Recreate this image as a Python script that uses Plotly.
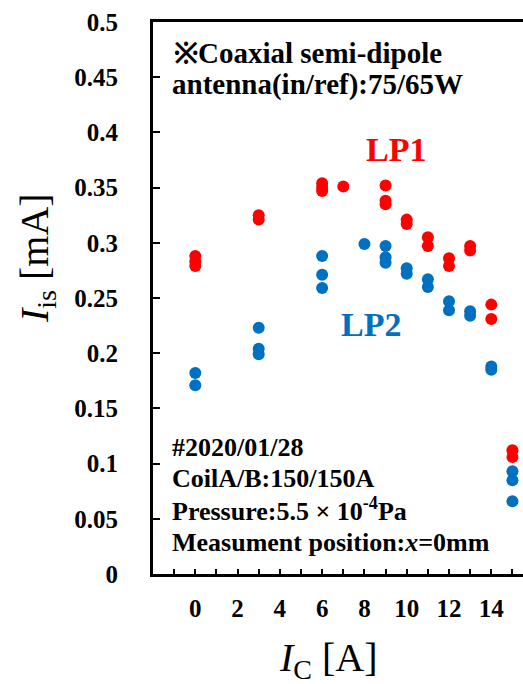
import plotly.graph_objects as go

# Ion saturation current of the two Langmuir probes vs. coil current
lp1_ic = [0, 0, 0, 3, 3, 6, 6, 6, 7, 9, 9, 9, 10, 10, 11, 11, 12, 12, 13, 13, 14, 14, 15, 15]
lp1_iis = [0.288, 0.283, 0.279, 0.325, 0.321, 0.354, 0.350, 0.347, 0.351,
           0.352, 0.338, 0.335, 0.321, 0.317, 0.305, 0.297, 0.286, 0.279,
           0.297, 0.293, 0.244, 0.231, 0.112, 0.106]

lp2_ic = [0, 0, 3, 3, 3, 6, 6, 6, 8, 9, 9, 9, 10, 10, 11, 11, 12, 12, 13, 13, 14, 14, 15, 15, 15]
lp2_iis = [0.182, 0.171, 0.223, 0.204, 0.199, 0.288, 0.271, 0.259, 0.299,
           0.297, 0.287, 0.282, 0.277, 0.272, 0.267, 0.260, 0.247, 0.239,
           0.238, 0.234, 0.188, 0.185, 0.093, 0.085, 0.066]

x_ticks = [0, 2, 4, 6, 8, 10, 12, 14]
x_ticktext = ["0", "2", "4", "6", "8", "10", "12", "14"]
y_ticks = [round(0.05 * i, 2) for i in range(11)]
y_ticktext = ["0", "0.05", "0.1", "0.15", "0.2", "0.25", "0.3", "0.35", "0.4", "0.45", "0.5"]

RED = "#FF0000"
BLUE = "#0070C0"
SERIF = "Liberation Serif, Times New Roman, serif"

fig = go.Figure()
fig.add_trace(go.Scatter(x=lp1_ic, y=lp1_iis, mode="markers", name="LP1",
                         marker=dict(color=RED, size=12, line=dict(width=0)),
                         cliponaxis=False))
fig.add_trace(go.Scatter(x=lp2_ic, y=lp2_iis, mode="markers", name="LP2",
                         marker=dict(color=BLUE, size=12, line=dict(width=0)),
                         cliponaxis=False))

fig.update_layout(
    width=523, height=684,
    margin=dict(l=153, r=0, t=22, b=110, pad=0),
    paper_bgcolor="white", plot_bgcolor="white",
    showlegend=False,
    font=dict(family=SERIF, color="black"),
    xaxis=dict(
        range=[-2, 15.5], showgrid=False, zeroline=False,
        showline=True, linecolor="black", linewidth=3, mirror=True,
        ticks="inside", ticklen=5, tickwidth=2, tickcolor="black",
        tickvals=x_ticks, ticktext=x_ticktext, ticklabelstandoff=10,
        minor=dict(ticks="inside", tick0=0, dtick=1, ticklen=5, tickwidth=2,
                   tickcolor="black", showgrid=False),
        tickfont=dict(family=SERIF, size=25, color="black", weight="bold"),
    ),
    yaxis=dict(
        range=[0, 0.5], showgrid=False, zeroline=False,
        showline=True, linecolor="black", linewidth=3,
        ticks="inside", ticklen=7, tickwidth=2, tickcolor="black",
        tickvals=y_ticks, ticktext=y_ticktext, ticklabelstandoff=27,
        tickfont=dict(family=SERIF, size=25, color="black", weight="bold"),
    ),
)

def px_x(px):
    return (px - 153) / 370.0

def px_y(py):
    return (574 - py) / 552.0

notes = [
    ("※Coaxial semi-dipole", 172, 53, 29),
    ("antenna(in/ref):75/65W", 170, 84, 29),
    ("#2020/01/28", 170, 447, 26),
    ("CoilA/B:150/150A", 170, 478, 26),
    ("Pressure:5.5 × 10<sup>-4</sup>Pa", 170, 509, 26),
    ("Measument position:<i>x</i>=0mm", 170, 542, 26),
]
for text, x0, y0, size in notes:
    fig.add_annotation(text=text, xref="paper", yref="paper",
                       x=px_x(x0), y=px_y(y0), xanchor="left", yanchor="middle",
                       showarrow=False,
                       font=dict(family=SERIF, size=size, color="black", weight="bold"))

fig.add_annotation(text="LP1", xref="paper", yref="paper", x=px_x(396), y=px_y(149),
                   xanchor="center", yanchor="middle", showarrow=False,
                   font=dict(family=SERIF, size=34, color=RED, weight="bold"))
fig.add_annotation(text="LP2", xref="paper", yref="paper", x=px_x(371), y=px_y(324),
                   xanchor="center", yanchor="middle", showarrow=False,
                   font=dict(family=SERIF, size=34, color=BLUE, weight="bold"))

# Axis titles
fig.add_annotation(text="<i>I</i><sub>C</sub> [A]", xref="paper", yref="paper",
                   x=px_x(328), y=px_y(660), xanchor="center", yanchor="middle",
                   showarrow=False, font=dict(family=SERIF, size=40, color="black"))
fig.add_annotation(text="<i>I</i><sub>is</sub> [mA]", xref="paper", yref="paper",
                   x=px_x(37), y=px_y(258), xanchor="center", yanchor="middle",
                   textangle=-90, showarrow=False,
                   font=dict(family=SERIF, size=40, color="black"))

fig.write_html("out.html")
